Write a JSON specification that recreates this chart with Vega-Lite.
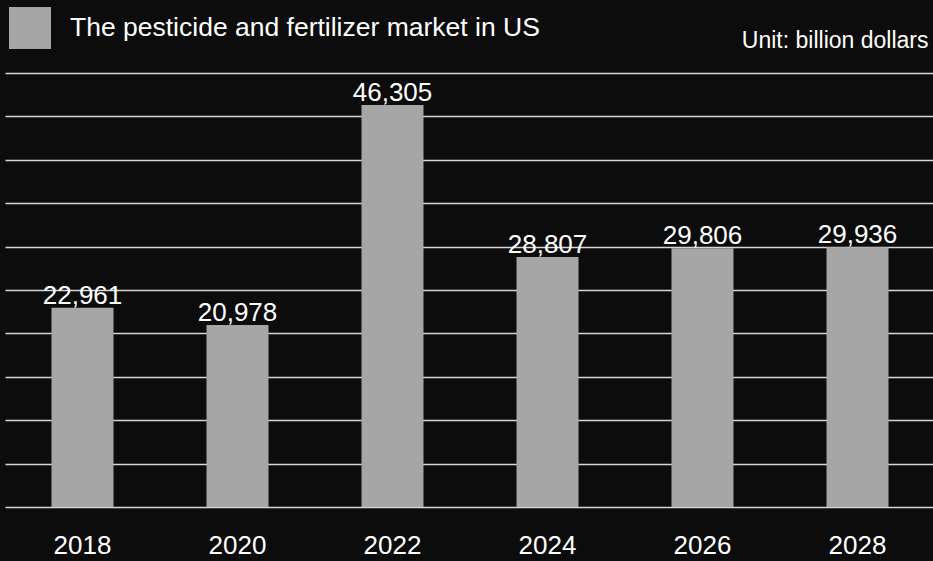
{
  "$schema": "https://vega.github.io/schema/vega-lite/v6.json",
  "autosize": "none",
  "width": 930,
  "height": 434,
  "padding": {"left": 5, "top": 73, "right": 0, "bottom": 54},
  "background": "#0c0c0c",
  "config": {
    "view": {"stroke": null},
    "font": "Liberation Sans, Arial, sans-serif"
  },
  "data": {
    "values": [
      {"year": "2018", "value": 22961, "series": "The pesticide and fertilizer market in US"},
      {"year": "2020", "value": 20978, "series": "The pesticide and fertilizer market in US"},
      {"year": "2022", "value": 46305, "series": "The pesticide and fertilizer market in US"},
      {"year": "2024", "value": 28807, "series": "The pesticide and fertilizer market in US"},
      {"year": "2026", "value": 29806, "series": "The pesticide and fertilizer market in US"},
      {"year": "2028", "value": 29936, "series": "The pesticide and fertilizer market in US"}
    ]
  },
  "encoding": {
    "x": {
      "field": "year",
      "type": "ordinal",
      "scale": {"paddingInner": 0.6, "paddingOuter": 0.3},
      "axis": {
        "title": null,
        "labelAngle": 0,
        "labelColor": "#ffffff",
        "labelFontSize": 26,
        "labelPadding": 25,
        "domain": false,
        "ticks": false,
        "grid": false
      }
    },
    "y": {
      "field": "value",
      "type": "quantitative",
      "scale": {"domain": [0, 50000], "nice": false},
      "axis": {
        "orient": "right",
        "title": "Unit: billion dollars",
        "titleAngle": 0,
        "titleAlign": "right",
        "titleBaseline": "alphabetic",
        "titleX": -7,
        "titleY": -26,
        "titleColor": "#ffffff",
        "titleFontSize": 23,
        "titleFontWeight": "normal",
        "labels": false,
        "ticks": false,
        "domain": false,
        "grid": true,
        "values": [0, 5000, 10000, 15000, 20000, 25000, 30000, 35000, 40000, 45000, 50000],
        "gridColor": "#d6d6d6",
        "gridWidth": 1.6,
        "gridOpacity": 1
      }
    }
  },
  "layer": [
    {
      "mark": {"type": "bar", "color": "#a6a6a6"},
      "encoding": {
        "color": {
          "field": "series",
          "type": "nominal",
          "scale": {"range": ["#a6a6a6"]},
          "legend": {
            "title": null,
            "orient": "none",
            "legendX": 4,
            "legendY": -66,
            "padding": 0,
            "symbolType": "square",
            "symbolSize": 1764,
            "symbolStrokeWidth": 0,
            "symbolOpacity": 1,
            "labelColor": "#ffffff",
            "labelFontSize": 26.5,
            "labelOffset": 19,
            "labelLimit": 800
          }
        }
      }
    },
    {
      "mark": {"type": "text", "color": "#ffffff", "fontSize": 26, "baseline": "alphabetic", "dy": -4},
      "encoding": {
        "text": {"field": "value", "type": "quantitative", "format": ",d"}
      }
    }
  ]
}
